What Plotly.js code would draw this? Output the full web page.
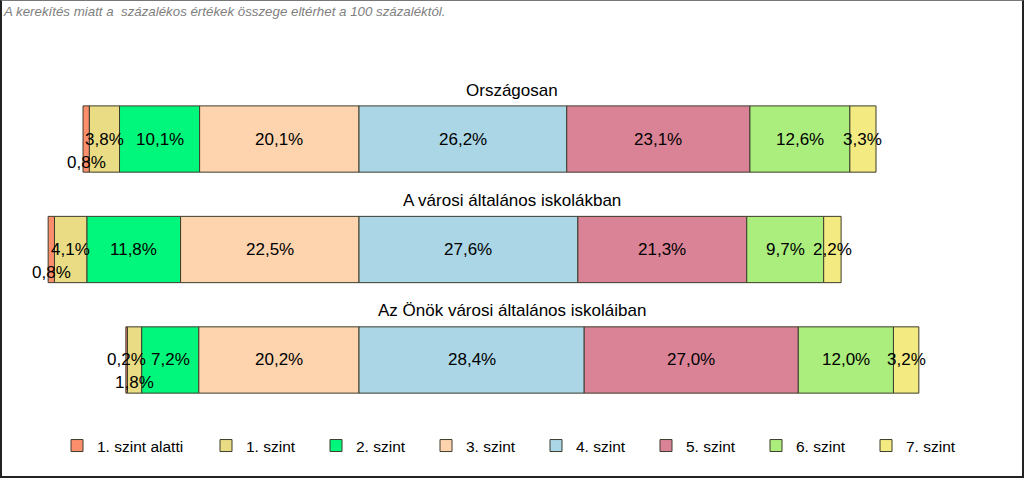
<!DOCTYPE html>
<html>
<head>
<meta charset="utf-8">
<script src="https://cdn.plot.ly/plotly-3.0.1.min.js"></script>
<style>
  body { margin: 0; background: #fff; }
  #chart {
    width: 1020px; height: 475px;
    border-top: 1px solid #777; border-left: 2px solid #222;
    border-right: 2px solid #222; border-bottom: 2px solid #222;
  }
</style>
</head>
<body>
<div id="chart"></div>
<script>
var categories = ['Országosan', 'A városi általános iskolákban', 'Az Önök városi általános iskoláiban'];
var levels = ['1. szint alatti', '1. szint', '2. szint', '3. szint', '4. szint', '5. szint', '6. szint', '7. szint'];

var below1 = [0.8, 0.8, 0.2];
var level1 = [3.8, 4.1, 1.8];
var level2 = [10.1, 11.8, 7.2];
var level3 = [20.1, 22.5, 20.2];
var level4 = [26.2, 27.6, 28.4];
var level5 = [23.1, 21.3, 27.0];
var level6 = [12.6, 9.7, 12.0];
var level7 = [3.3, 2.2, 3.2];

var series = [below1, level1, level2, level3, level4, level5, level6, level7];
var colors = ['#FC8E6C', '#E9DC84', '#00F77B', '#FED4AF', '#AAD6E6', '#DA8397', '#ABEE7D', '#F3EA82'];

// labels Excel pushed down to avoid overlap: [category, series]
var loweredLabels = { '0-0': true, '1-0': true, '2-1': true };

var font = 'Liberation Sans, Arial, sans-serif';
var ys = [0, 1, 2];

// bars are centred on the 3./4. szint boundary
var bases = series.map(function (s, k) {
  return ys.map(function (c) {
    var b = 0;
    for (var i = 0; i < 4; i++) b -= series[i][c];
    for (var j = 0; j < k; j++) b += series[j][c];
    return b;
  });
});

var data = series.map(function (s, k) {
  return {
    type: 'bar',
    orientation: 'h',
    name: levels[k],
    legend: k === 0 ? 'legend' : 'legend2',
    y: ys,
    x: s,
    base: bases[k],
    width: 0.6,
    marker: { color: colors[k], line: { color: '#3c3c2c', width: 1 } },
    hoverinfo: 'skip'
  };
});

var annotations = [];
series.forEach(function (s, k) {
  s.forEach(function (v, c) {
    annotations.push({
      x: bases[k][c] + v / 2, y: c, xref: 'x', yref: 'y',
      text: v.toFixed(1).replace('.', ',') + '%',
      showarrow: false,
      yshift: loweredLabels[c + '-' + k] ? -23 : 0,
      font: { family: font, size: 17, color: '#000' }
    });
  });
});
categories.forEach(function (name, c) {
  annotations.push({
    x: 0.5, xref: 'paper', y: c, yref: 'y', yshift: 49,
    text: name, showarrow: false,
    font: { family: font, size: 17, color: '#000' }
  });
});

var legendStyle = {
  orientation: 'h',
  xanchor: 'left',
  y: -0.08, yanchor: 'middle',
  entrywidth: 65,
  traceorder: 'normal',
  font: { family: font, size: 15.5, color: '#000' },
  bgcolor: 'rgba(0,0,0,0)'
};

var layout = {
  width: 1020,
  height: 475,
  margin: { l: 0, r: 0, t: 27, b: 61 },
  paper_bgcolor: '#fff',
  plot_bgcolor: '#fff',
  barmode: 'overlay',
  title: {
    text: 'A kerekítés miatt a  százalékos értékek összege eltérhet a 100 százaléktól.',
    xref: 'container', yref: 'container',
    x: 2 / 1020, xanchor: 'left',
    y: 1 - 10 / 475, yanchor: 'middle',
    font: { family: font, size: 13.3, color: '#808080', style: 'italic' }
  },
  xaxis: {
    range: [-45.02, 83.61],
    visible: false,
    fixedrange: true
  },
  yaxis: {
    range: [2.498, -1.005],
    visible: false,
    fixedrange: true
  },
  showlegend: true,
  legend: Object.assign({}, legendStyle, { x: 55 / 1020, entrywidth: 100 }),
  legend2: Object.assign({}, legendStyle, { x: 204 / 1020 }),
  annotations: annotations
};

Plotly.newPlot('chart', data, layout, { displayModeBar: false, staticPlot: true });
</script>
</body>
</html>
